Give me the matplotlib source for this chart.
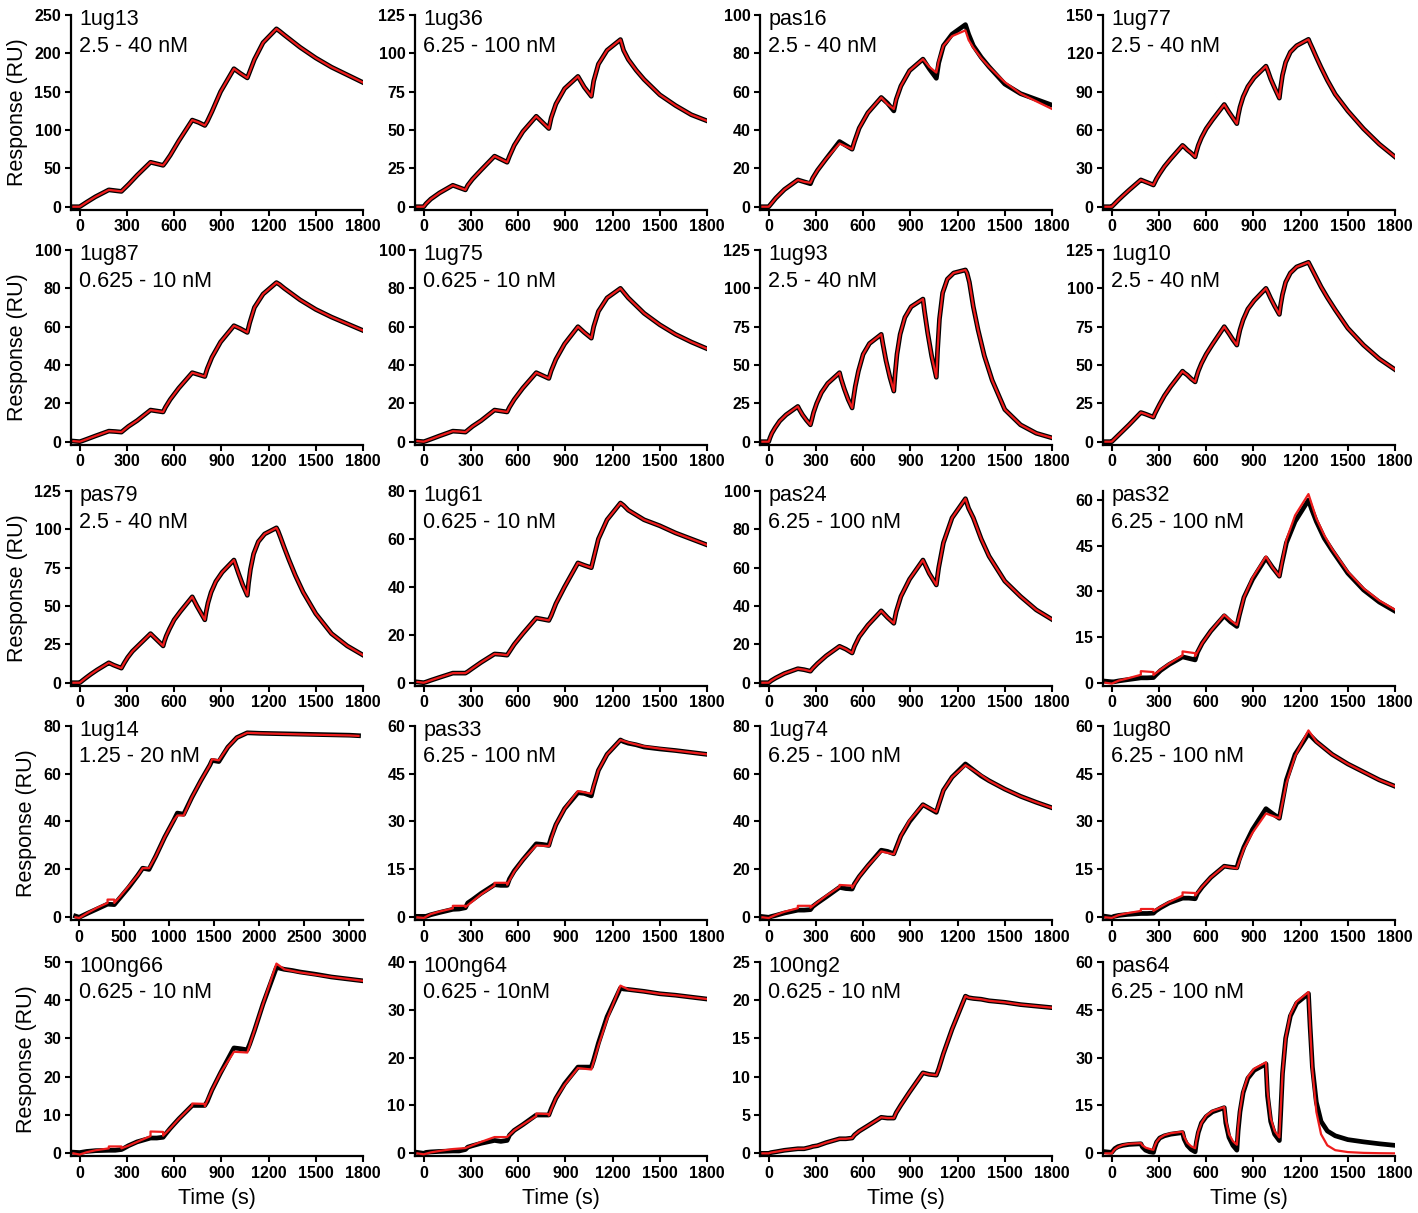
import numpy as np
import matplotlib
matplotlib.use("Agg")
import matplotlib.pyplot as plt

plt.rcParams['font.family'] = ['Liberation Sans', 'DejaVu Sans']

RED = '#ee1c1c'

# common time grid (s) of the single-cycle runs
T = [-40, 0, 15, 45, 100, 185, 225, 265, 280, 310, 365, 450, 490, 530, 545, 575, 630, 715,
     755, 795, 810, 840, 895, 980, 1020, 1065, 1080, 1110, 1165, 1250, 1270, 1300, 1350, 1400,
     1500, 1600, 1700, 1800]
# denser grid for the strongly curved runs
T_FAST = [-40, 0, 8, 20, 40, 70, 110, 185, 195, 215, 240, 265, 273, 285, 305, 335, 375, 450,
          460, 480, 505, 530, 538, 550, 570, 600, 640, 715, 725, 745, 770, 795, 803, 815, 835,
          865, 905, 980, 990, 1010, 1035, 1065, 1073, 1085, 1105, 1135, 1175, 1250, 1260, 1275,
          1300, 1330, 1370, 1420, 1500, 1600, 1700, 1800]
# time grids of fitted curves that show bulk steps
T_STEP = [-40, 0, 45, 100, 185, 185, 265, 265, 310, 365, 450, 450, 530, 530, 575, 630, 715, 755,
          795, 840, 895, 980, 1020, 1065, 1110, 1165, 1250, 1300, 1350, 1400, 1500, 1600, 1700, 1800]
T_BOX = [-40, 0, 45, 100, 185, 185, 265, 265, 310, 365, 450, 450, 530, 530, 575, 630, 715, 795,
         840, 895, 980, 1065, 1110, 1165, 1250, 1300, 1400, 1500, 1600, 1700, 1800]
T_NG66 = [-40, 0, 45, 100, 185, 185, 265, 265, 310, 365, 450, 450, 530, 530, 575, 630, 715, 715,
          795, 795, 840, 895, 980, 1065, 1110, 1165, 1250, 1300, 1400, 1500, 1600, 1700, 1800]
T_NG64 = [-40, 0, 45, 100, 185, 265, 310, 365, 450, 530, 575, 630, 715, 715, 795, 795, 840, 895,
          980, 1065, 1110, 1165, 1250, 1300, 1400, 1500, 1600, 1700, 1800]
T14 = [-40, 0, 100, 200, 315, 390, 450, 550, 650, 705, 775, 850, 950, 1050, 1090, 1160, 1250, 1350,
       1450, 1475, 1550, 1650, 1750, 1865, 2000, 2500, 3000, 3100]
T14_FIT = [-40, 0, 100, 200, 315, 315, 390, 390, 450, 550, 650, 705, 775, 850, 950, 1050, 1090, 1160,
           1250, 1350, 1450, 1475, 1550, 1650, 1750, 1865, 2000, 2500, 3000, 3100]

ug13 = [0, 0, 2, 6, 13, 22, 21, 20, 23, 29, 41, 58, 56, 54, 58, 67, 86, 113, 110, 106, 111, 124, 150,
        180, 174, 168, 176, 192, 214, 232, 229, 224, 216, 208, 194, 182, 172, 162]
ug36 = [0, 0, 2, 5, 9, 14, 12.5, 11, 14, 18, 24, 33, 31, 29, 33, 40, 49, 59, 55, 51, 58, 67, 77, 85,
        78, 72, 82, 93, 102, 109, 102, 96, 89, 83, 73, 66, 60, 56]
pas16_obs = [0, 0, 1.5, 4.5, 9, 14, 13, 12, 15, 19, 25, 34, 32, 30, 34, 41, 49, 57, 54, 50, 56, 63,
             71, 77, 72, 67, 75, 84, 90, 95, 90, 84, 78, 73, 64, 59, 56, 53]
pas16_fit = [0, 0, 1.5, 4.5, 9, 14, 13, 12.5, 15, 19, 25, 33, 31.5, 30, 34, 41, 49, 57, 53.5, 51, 56,
             63, 71, 77, 73, 70, 76, 84, 89, 92, 87, 83, 77.5, 73, 65, 59, 55, 51]
ug77 = [0, 0, 1, 2.5, 5, 8.5, 13, 21, 20.5, 19.5, 18.3, 17, 19, 22, 26, 31.5, 37.5, 48, 47, 44.5,
        42, 39, 43, 48, 54, 61, 68, 80, 78, 74, 69.5, 65, 71, 78, 86, 94, 101, 110, 107, 100, 93,
        85, 93, 103, 113, 121, 126, 131, 128, 124, 117, 109, 99, 88, 75, 61, 49, 39]
ug87 = [0.3, 0, 0.4, 1.3, 3, 5.5, 5.3, 5, 6, 8, 11, 16.5, 16, 15.5, 18, 22, 28, 36, 35, 34, 38, 44,
        52, 60.5, 59, 57, 62, 70, 77, 83, 82, 80, 77, 74, 69, 65, 61.5, 58]
ug75 = [0.3, 0, 0.4, 1.3, 3, 5.5, 5.3, 5, 6, 8, 11, 16.5, 16, 15.5, 18, 22, 28, 36, 34.5, 33, 37, 43,
        51, 60, 57, 54, 60, 68, 75, 80, 78, 75, 71, 67, 61, 56, 52, 48.5]
ug93 = [0, 0, 2.5, 5.5, 9, 13.5, 17.5, 23, 21, 17.5, 14, 11, 14, 19, 25, 32, 38, 45, 41, 34.5, 27.5,
        22, 28, 36, 46, 57, 64, 70, 64, 53, 42, 33, 44, 57, 70, 81, 88, 93, 85, 71, 56, 42, 60, 80,
        97, 106, 110, 112, 110, 104, 88, 73, 56, 40, 21, 11, 5.5, 2.5]
ug10 = [0, 0, 0.8, 2, 4, 7, 11, 19, 18.7, 18, 17, 16, 18, 20.5, 24.5, 30, 36, 46, 45, 43.5, 41, 39,
        42, 46, 51, 57, 63.5, 75, 73.5, 70.5, 66.5, 63, 67.5, 73, 79.5, 86.5, 92, 100, 98, 93.5, 88.5,
        83, 89, 96, 104, 110, 114, 117, 115, 112, 107, 101, 94, 86, 74, 63, 54, 47]
pas79 = [0, 0, 0.6, 1.6, 3.2, 5.5, 8.3, 13, 12.5, 11.5, 10.5, 9.5, 11, 13.2, 16.5, 20.5, 24.5, 32, 31,
         29, 26.5, 24, 27, 30.5, 35, 41, 46.5, 56, 54, 50, 45.5, 41, 46, 52, 59, 66, 72, 80, 77, 71,
         64, 57, 65, 74, 84, 92, 97, 101, 99, 95, 88, 80, 70, 59, 45, 32, 24, 18]
ug61 = [0.3, 0, 0.3, 1, 2.2, 4, 4, 4, 4.6, 6, 8.5, 12, 11.8, 11.5, 13, 16, 20.5, 27, 26.5, 26, 28, 33,
        40, 50, 49, 48, 52, 60, 68, 75, 74, 72, 70, 68, 65.5, 62.5, 60, 57.5]
pas24 = [0, 0, 1, 2.5, 4.8, 7.3, 6.8, 6, 7.5, 10, 14, 19, 17.5, 15.5, 19, 24, 30, 37.5, 34, 31, 37, 45,
         54, 64, 57, 51, 60, 73, 86, 96, 91, 86, 75, 66, 53, 45, 38, 33]
pas32_obs = [0.5, 0.3, 0.3, 0.6, 1, 1.6, 1.6, 1.7, 2.5, 4, 6, 8.5, 8, 7.5, 10, 13, 17, 22, 20, 18.5,
             22, 28, 34, 41, 38, 35, 39, 46, 53, 60, 57, 53, 47.5, 43.5, 36, 30.5, 26.5, 23.5]
pas32_fit = [0, -0.3, 0.7, 1.4, 2.6, 3.8, 3.5, 2.5, 4.3, 6.3, 9.0, 10.3, 9.7, 8.7, 13, 17, 22.3, 20.5,
             19, 28, 34.5, 41.5, 38, 35, 47, 55, 62, 54, 48.5, 44, 36.5, 31, 27, 24]
ug14_obs = [0.5, 0, 1.8, 3.5, 5.5, 5.3, 8, 12.5, 17.5, 20.5, 20, 25.5, 33.5, 40.5, 43.5, 43, 50, 57,
            63.5, 65.5, 65, 71, 75, 77, 76.8, 76.4, 76, 75.8]
ug14_fit = [0, -0.3, 2, 4, 6, 7.4, 7.4, 6, 8.5, 13, 17.5, 20.5, 20.5, 25.5, 33.5, 40.5, 42.5, 42.5,
            50, 57, 63.5, 66, 65.5, 71, 75, 77, 76.8, 76.3, 75.9, 75.7]
pas33_obs = [0.3, 0.3, 0.3, 0.8, 1.5, 2.5, 2.6, 3, 4.5, 5.5, 7.5, 10.2, 10, 10, 12, 14.5, 18, 23, 22.8,
             22.5, 25, 29, 34, 39, 38.8, 38, 41, 46, 51, 55.5, 55, 54.5, 54, 53.3, 52.7, 52.2, 51.6, 51]
pas33_fit = [0, -0.2, 1, 1.8, 2.8, 3.6, 3.6, 3.2, 5, 7.2, 10, 10.8, 10.8, 10.2, 14.3, 18, 22.5, 22.3,
             29, 34, 39.5, 38.7, 46, 51, 55.5, 54.7, 53.5, 52.8, 52.2, 51.6, 51]
ug74_obs = [0.3, 0, 0.3, 0.8, 1.8, 3, 3, 3.2, 4.5, 6, 8.5, 12.5, 12, 11.8, 14, 17, 21.5, 28, 27.5,
            26.5, 29, 34, 40, 47, 45.5, 43.8, 47, 53, 58.5, 64, 63, 61.5, 59, 57, 53.5, 50.5, 48, 45.7]
ug74_fit = [0, -0.3, 1, 2.3, 3.8, 4.8, 4.8, 4, 6.3, 9, 12.8, 13.5, 13.2, 12.3, 17, 21.5, 27.5, 26.3,
            34, 40.5, 47, 44, 53, 58.5, 63.5, 61.5, 57, 53.5, 50.5, 48, 45.7]
ug80_obs = [0.3, 0, 0.3, 0.6, 0.9, 1.2, 1.2, 1.3, 2, 3, 4.5, 6, 6, 5.8, 7.5, 9.5, 12.5, 16, 15.7, 15.5,
            18, 22, 27.5, 34, 32.5, 31, 35, 43, 51, 57.5, 56.5, 55, 53, 51, 48, 45.5, 43, 41]
ug80_fit = [0, -0.2, 0.7, 1.3, 2, 2.6, 2.6, 2, 3.3, 4.8, 6.8, 7.8, 7.6, 6.8, 9.6, 12.5, 16, 15.3,
            21.5, 26.5, 32.5, 31, 42, 50.5, 58.5, 55, 51, 48, 45.5, 43, 41]
ng66_obs = [0.3, 0.2, 0.3, 0.5, 0.7, 0.8, 0.8, 1, 1.3, 2, 3, 4, 4, 4.2, 5, 6.5, 9, 12.5, 12.5, 12.5,
            13.5, 16.5, 21, 27.5, 27.3, 27, 28.5, 32, 39, 48.5, 48.3, 48, 47.7, 47.3, 46.7, 46, 45.5, 45]
ng66_fit = [0, -0.3, 0.3, 0.8, 1.3, 1.8, 1.8, 1.3, 2, 3, 4.5, 5.7, 5.6, 4.6, 6.5, 9, 12.5, 13, 12.9,
            12.3, 16.5, 21, 26.5, 26.3, 32, 39, 49.5, 48, 47.2, 46.6, 46, 45.5, 45]
ng64_obs = [0.2, 0, 0.2, 0.3, 0.4, 0.5, 0.5, 0.8, 1.3, 1.6, 2.1, 2.7, 2.5, 2.7, 3.8, 4.8, 6, 8, 8, 8,
            9.3, 11.5, 14.5, 18, 18, 18, 19.5, 23, 28.5, 34.5, 34.3, 34.2, 34, 33.8, 33.3, 33, 32.6, 32.2]
ng64_fit = [0, -0.2, 0.2, 0.5, 0.9, 1.1, 1.7, 2.4, 3.4, 3.4, 4.8, 6, 7.8, 8.3, 8.2, 7.9, 11.5, 14.3,
            17.8, 17.5, 22.5, 28, 35, 34.2, 33.8, 33.3, 33, 32.6, 32.2]
ng2 = [0, 0, 0.1, 0.2, 0.4, 0.6, 0.6, 0.8, 0.9, 1, 1.4, 1.9, 1.9, 2, 2.4, 2.9, 3.6, 4.7, 4.6, 4.6, 5.3,
       6.3, 8, 10.5, 10.3, 10.2, 11, 13, 16.2, 20.5, 20.3, 20.2, 20.1, 19.9, 19.7, 19.4, 19.2, 19]
pas64_obs = [0.5, 0.3, 0.8, 1.5, 2.1, 2.5, 2.8, 3, 2, 1, 0.5, 0.3, 1.8, 3.5, 4.8, 5.5, 6, 6.5, 4.5,
             2.5, 1.2, 0.5, 3.5, 6.5, 9.5, 11.5, 13, 14.3, 9.5, 5, 2.5, 1, 7, 13, 19, 23.5, 26, 28,
             18, 10, 6, 4, 12, 25, 36, 43, 47, 50, 40, 27, 16, 10, 7, 5.5, 4.3, 3.6, 3, 2.5]
pas64_fit = [0, 0, 0.6, 1.3, 2, 2.6, 3, 3.2, 2.5, 1.8, 1.4, 1.1, 2.3, 3.6, 4.8, 5.7, 6.3, 6.8, 5.2,
             3.3, 2.2, 1.6, 4, 6.8, 9.5, 11.8, 13.3, 14.5, 10.5, 6, 3.8, 2.7, 8, 13.5, 19.5, 24, 26.5,
             28.5, 19.5, 11, 7, 5, 13, 25, 36, 43.5, 47.5, 50.5, 40, 26, 13, 6, 2.5, 1, 0.4, 0.15,
             0.05, 0]

names = ['1ug13', '1ug36', 'pas16', '1ug77',
         '1ug87', '1ug75', '1ug93', '1ug10',
         'pas79', '1ug61', 'pas24', 'pas32',
         '1ug14', 'pas33', '1ug74', '1ug80',
         '100ng66', '100ng64', '100ng2', 'pas64']
concs = ['2.5 - 40 nM', '6.25 - 100 nM', '2.5 - 40 nM', '2.5 - 40 nM',
         '0.625 - 10 nM', '0.625 - 10 nM', '2.5 - 40 nM', '2.5 - 40 nM',
         '2.5 - 40 nM', '0.625 - 10 nM', '6.25 - 100 nM', '6.25 - 100 nM',
         '1.25 - 20 nM', '6.25 - 100 nM', '6.25 - 100 nM', '6.25 - 100 nM',
         '0.625 - 10 nM', '0.625 - 10nM', '0.625 - 10 nM', '6.25 - 100 nM']
y_tops = [250, 125, 100, 150, 100, 100, 125, 125, 125, 80, 100, 60,
          80, 60, 80, 60, 50, 40, 25, 60]
y_steps = [50, 25, 20, 30, 20, 20, 25, 25, 25, 20, 20, 15,
           20, 15, 20, 15, 10, 10, 5, 15]
observed = [(T, ug13), (T, ug36), (T, pas16_obs), (T_FAST, ug77),
            (T, ug87), (T, ug75), (T_FAST, ug93), (T_FAST, ug10),
            (T_FAST, pas79), (T, ug61), (T, pas24), (T, pas32_obs),
            (T14, ug14_obs), (T, pas33_obs), (T, ug74_obs), (T, ug80_obs),
            (T, ng66_obs), (T, ng64_obs), (T, ng2), (T_FAST, pas64_obs)]
fitted = [(T, ug13), (T, ug36), (T, pas16_fit), (T_FAST, ug77),
          (T, ug87), (T, ug75), (T_FAST, ug93), (T_FAST, ug10),
          (T_FAST, pas79), (T, ug61), (T, pas24), (T_STEP, pas32_fit),
          (T14_FIT, ug14_fit), (T_BOX, pas33_fit), (T_BOX, ug74_fit), (T_BOX, ug80_fit),
          (T_NG66, ng66_fit), (T_NG64, ng64_fit), (T, ng2), (T_FAST, pas64_fit)]

fig = plt.figure(figsize=(14.18, 12.13), dpi=100)
lefts = [0.0501, 0.2927, 0.536, 0.7779]
bottoms = [0.8272, 0.6335, 0.4348, 0.2414, 0.0468]
w, h = 0.2059, 0.1604
tick_font = ['Liberation Sans Narrow', 'Liberation Sans', 'DejaVu Sans']

for i in range(20):
    r, c = divmod(i, 4)
    ax = fig.add_axes([lefts[c], bottoms[r], w, h])
    tb, yb = observed[i]
    tf, yf = fitted[i]
    ax.plot(tb, yb, color='black', lw=3.4, solid_joinstyle='round', zorder=2)
    ax.plot(tf, yf, color=RED, lw=1.6, zorder=3)

    top = y_tops[i]
    if names[i] == 'pas32':
        ax.set_ylim(-0.015 * 63, 63)
    else:
        ax.set_ylim(-0.015 * top, top)
    ax.set_yticks(np.arange(0, top + 0.1, y_steps[i]))
    if names[i] == '1ug14':
        ax.set_xlim(-90, 3150)
        ax.set_xticks(np.arange(0, 3001, 500))
    else:
        ax.set_xlim(-55, 1800)
        ax.set_xticks(np.arange(0, 1801, 300))

    for s in ['top', 'right']:
        ax.spines[s].set_visible(False)
    for s in ['left', 'bottom']:
        ax.spines[s].set_linewidth(1.6)
    ax.tick_params(direction='out', length=4, width=1.5, pad=3)
    for lab in ax.get_xticklabels() + ax.get_yticklabels():
        lab.set_fontfamily(tick_font)
        lab.set_fontweight('bold')
        lab.set_fontsize(11.5)

    ax.text(0.028, 1.03, names[i] + '\n' + concs[i], transform=ax.transAxes,
            ha='left', va='top', fontsize=15.5, linespacing=1.35)
    if c == 0:
        ax.set_ylabel('Response (RU)', fontsize=15.5, labelpad=5)
    if r == 4:
        ax.set_xlabel('Time (s)', fontsize=15.5, labelpad=5)

fig.savefig('out.png', dpi=100)
